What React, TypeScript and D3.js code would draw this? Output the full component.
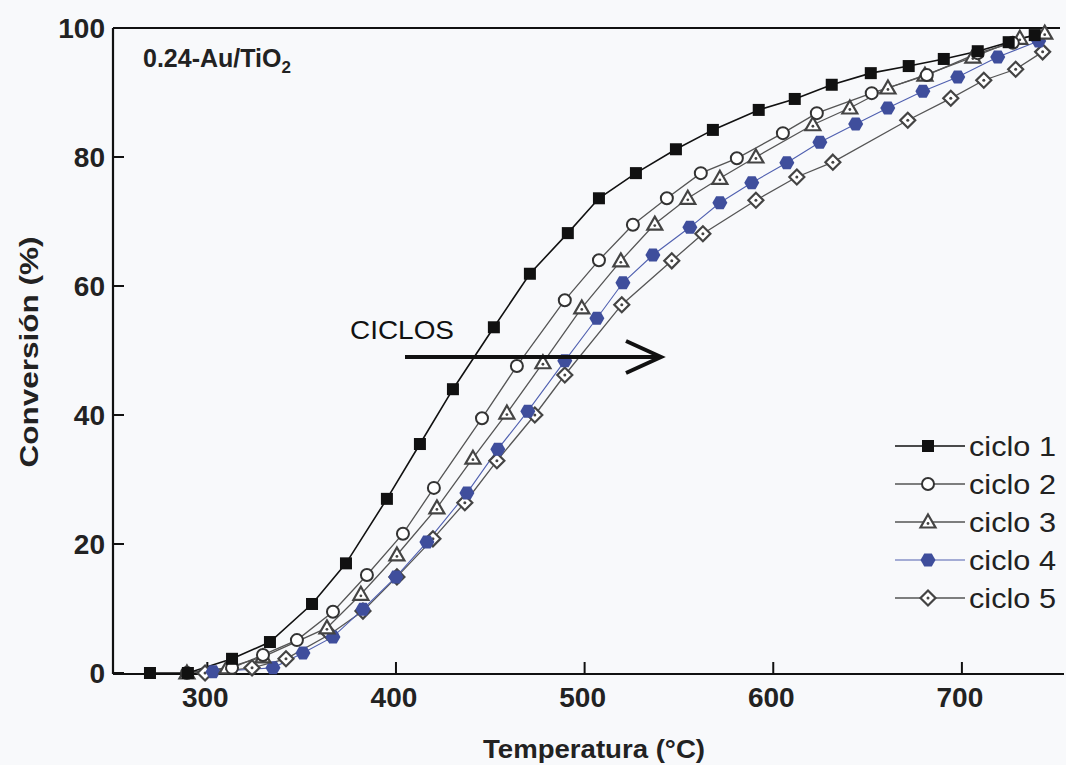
import React from 'react';
import * as d3 from 'd3';

// temperature (°C) and conversion (%), one pair per cycle
const c1Temp = [269.6, 289.7, 313.1, 333.2, 355.5, 373.5, 395.2, 412.7, 430.2, 451.9, 471.0, 491.1, 507.6, 527.2, 548.4, 568.0, 592.3, 611.4, 631.0, 651.7, 671.8, 690.4, 708.4, 724.8, 738.6];
const c1Conv = [0, 0, 2.2, 4.8, 10.7, 17.0, 27.0, 35.5, 44.0, 53.6, 61.9, 68.2, 73.6, 77.5, 81.2, 84.2, 87.3, 89.0, 91.2, 93.0, 94.1, 95.2, 96.4, 97.8, 98.9];

const c2Temp = [289.2, 313.1, 329.5, 347.5, 366.6, 384.6, 403.7, 420.1, 445.6, 464.1, 489.5, 507.6, 525.6, 543.6, 561.6, 580.7, 605.1, 623.1, 652.2, 681.4, 708.4, 727.0];
const c2Conv = [0, 0.8, 2.8, 5.1, 9.5, 15.2, 21.6, 28.7, 39.5, 47.6, 57.8, 64.0, 69.5, 73.6, 77.5, 79.8, 83.7, 86.8, 89.9, 92.7, 96.1, 97.7];

const c3Temp = [289.2, 310.4, 329.5, 363.4, 381.4, 400.5, 421.7, 440.8, 458.8, 477.9, 498.5, 519.2, 537.2, 554.7, 571.7, 590.8, 621.0, 640.6, 660.8, 680.4, 705.8, 730.7, 743.9];
const c3Conv = [0, 0.8, 2.5, 7.0, 12.2, 18.3, 25.6, 33.3, 40.3, 48.1, 56.6, 63.9, 69.6, 73.6, 76.7, 80.0, 85.0, 87.6, 90.7, 92.7, 95.5, 98.4, 99.2];

const c4Temp = [303.0, 334.8, 350.7, 366.6, 382.5, 400.0, 416.4, 437.6, 454.0, 469.9, 489.5, 506.5, 520.3, 536.2, 555.8, 571.7, 588.6, 607.2, 624.7, 643.7, 660.7, 679.3, 697.8, 719.0, 740.7];
const c4Conv = [0.2, 0.8, 3.1, 5.6, 9.9, 14.9, 20.3, 27.9, 34.7, 40.6, 48.4, 55.0, 60.5, 64.8, 69.1, 72.9, 76.0, 79.1, 82.3, 85.1, 87.6, 90.2, 92.4, 95.5, 98.0];

const c5Temp = [298.8, 323.7, 341.7, 365.0, 382.5, 400.5, 419.6, 436.5, 453.5, 473.6, 489.5, 519.7, 546.2, 562.7, 590.8, 612.5, 631.6, 671.3, 694.1, 711.6, 728.5, 742.8];
const c5Conv = [0, 0.8, 2.2, 6.0, 9.6, 14.9, 20.8, 26.4, 32.9, 40.0, 46.2, 57.1, 63.9, 68.1, 73.3, 76.9, 79.2, 85.7, 89.1, 91.9, 93.6, 96.3];

const seriesNames = ['ciclo 1', 'ciclo 2', 'ciclo 3', 'ciclo 4', 'ciclo 5'];
const xTicks = [300, 400, 500, 600, 700];
const yTicks = [0, 20, 40, 60, 80, 100];

const W = 1066;
const H = 765;
const left = 113, right = 1060, top = 28, bottom = 673;

const x = d3.scaleLinear().domain([250, 752]).range([left, right]);
const y = d3.scaleLinear().domain([0, 100]).range([bottom, top]);

const styles = [
  { line: '#111', width: 1.6, shape: 'square' },
  { line: '#555', width: 1.3, shape: 'circle' },
  { line: '#555', width: 1.3, shape: 'triangle' },
  { line: '#5060b0', width: 1.1, shape: 'hex' },
  { line: '#555', width: 1.3, shape: 'diamond' },
];

const hexPath = (r: number) => {
  const pts: [number, number][] = d3.range(6).map(i => {
    const a = (Math.PI / 3) * i;
    return [r * Math.cos(a), r * Math.sin(a)];
  });
  return d3.line()(pts) + 'Z';
};

function Marker({ shape, cx, cy }: { shape: string; cx: number; cy: number }) {
  const t = `translate(${cx},${cy})`;
  if (shape === 'square') {
    return <rect x={cx - 6} y={cy - 6} width={12} height={12} fill="#111" />;
  }
  if (shape === 'circle') {
    return <circle cx={cx} cy={cy} r={6} fill="#fff" stroke="#333" strokeWidth={2} />;
  }
  if (shape === 'triangle') {
    return (
      <g transform={t}>
        <path d="M0,-7.5L7.5,5.5L-7.5,5.5Z" fill="#fff" stroke="#444" strokeWidth={2.2} />
        <circle cx={0} cy={1.5} r={1.4} fill="#444" />
      </g>
    );
  }
  if (shape === 'hex') {
    return <path transform={t} d={hexPath(7.5)} fill="#3f4e9c" />;
  }
  return (
    <g transform={t}>
      <path d="M0,-7.5L7.5,0L0,7.5L-7.5,0Z" fill="#fff" stroke="#444" strokeWidth={2.2} />
      <circle cx={0} cy={0} r={1.5} fill="#444" />
    </g>
  );
}

export default function App() {
  const series = [
    c1Temp.map((t, i) => [t, c1Conv[i]]),
    c2Temp.map((t, i) => [t, c2Conv[i]]),
    c3Temp.map((t, i) => [t, c3Conv[i]]),
    c4Temp.map((t, i) => [t, c4Conv[i]]),
    c5Temp.map((t, i) => [t, c5Conv[i]]),
  ];
  const line = d3.line<number[]>().x(d => x(d[0])).y(d => y(d[1]));
  const font = 'Arial, "Liberation Sans", sans-serif';

  // draw from last to first so cycle 1 sits on top
  const order = [4, 3, 2, 1, 0];

  return (
    <svg width={W} height={H} style={{ position: 'absolute', left: 0, top: 0 }} fontFamily={font}>
      <rect width={W} height={H} fill="#f8f9fb" />

      {/* frame */}
      <line x1={left} x2={left} y1={top} y2={bottom + 1} stroke="#111" strokeWidth={2.2} />
      <line x1={left} x2={W - 2} y1={bottom + 1} y2={bottom + 1} stroke="#111" strokeWidth={2.2} />
      <line x1={left} x2={right} y1={top} y2={top} stroke="#111" strokeWidth={2} />

      {xTicks.map(t => (
        <g key={t}>
          <line x1={x(t)} x2={x(t)} y1={bottom} y2={bottom - 11} stroke="#111" strokeWidth={2} />
          <text x={x(t) - 2} y={bottom + 34} textAnchor="middle" fontSize={28} fontWeight="bold" fill="#222">{t}</text>
        </g>
      ))}
      {yTicks.map(t => (
        <g key={t}>
          <line x1={left} x2={left + 11} y1={y(t)} y2={y(t)} stroke="#111" strokeWidth={2} />
          <text x={left - 8} y={y(t) + 10} textAnchor="end" fontSize={28} fontWeight="bold" fill="#222">{t}</text>
        </g>
      ))}

      <text x={594} y={758} textAnchor="middle" fontSize={26} fontWeight="bold" fill="#222"
        textLength={222} lengthAdjust="spacingAndGlyphs">Temperatura (°C)</text>
      <text transform="translate(38,352) rotate(-90)" textAnchor="middle" fontSize={26} fontWeight="bold" fill="#222"
        textLength={231} lengthAdjust="spacingAndGlyphs">Conversión (%)</text>

      <text x={143} y={67} fontSize={25} fontWeight="bold" fill="#222">
        0.24-Au/TiO<tspan dy={6} fontSize={17}>2</tspan>
      </text>

      {order.map(i => (
        <path key={'l' + i} d={line(series[i] as number[][]) || ''} fill="none" stroke={styles[i].line} strokeWidth={styles[i].width} />
      ))}
      {order.map(i => (
        <g key={'m' + i}>
          {series[i].map((d, j) => (
            <Marker key={j} shape={styles[i].shape} cx={x(d[0])} cy={y(d[1])} />
          ))}
        </g>
      ))}

      {/* CICLOS arrow */}
      <text x={350} y={339} fontSize={25} fill="#111" textLength={104} lengthAdjust="spacingAndGlyphs">CICLOS</text>
      <line x1={405} x2={660} y1={357} y2={357} stroke="#111" strokeWidth={4} />
      <path d="M626,341L661,357L626,373" fill="none" stroke="#111" strokeWidth={4} />

      {/* legend */}
      {seriesNames.map((name, i) => {
        const ly = 446 + i * 38;
        return (
          <g key={name}>
            <line x1={895} x2={965} y1={ly} y2={ly} stroke={styles[i].line} strokeWidth={styles[i].width} />
            <Marker shape={styles[i].shape} cx={928} cy={ly} />
            <text x={969} y={ly + 10} fontSize={28} fill="#222" textLength={87} lengthAdjust="spacingAndGlyphs">{name}</text>
          </g>
        );
      })}
    </svg>
  );
}
